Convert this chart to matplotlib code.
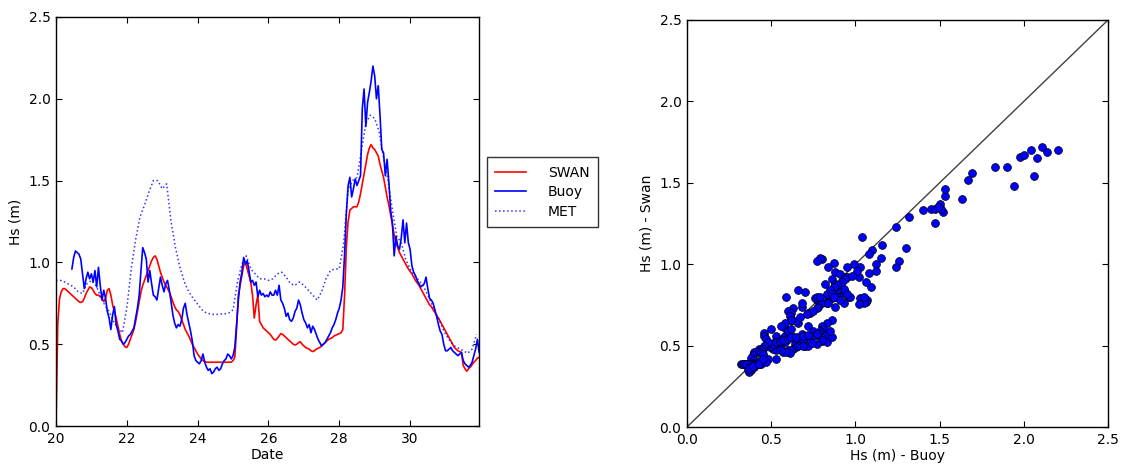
import numpy as np
import matplotlib
matplotlib.use("Agg")
import matplotlib.pyplot as plt

# ---- data ----
swan_start, swan_step = 20.0, 0.05
swan = [
    0.00, 0.62, 0.78, 0.82, 0.84, 0.84, 0.83, 0.82, 0.81, 0.80,
    0.79, 0.78, 0.77, 0.76, 0.755, 0.76, 0.78, 0.81, 0.83, 0.85,
    0.845, 0.83, 0.81, 0.80, 0.80, 0.79, 0.78, 0.76, 0.78, 0.83,
    0.84, 0.80, 0.74, 0.70, 0.66, 0.61, 0.56, 0.52, 0.50, 0.485,
    0.48, 0.50, 0.53, 0.56, 0.59, 0.64, 0.70, 0.76, 0.82, 0.86,
    0.89, 0.92, 0.95, 0.98, 1.01, 1.03, 1.04, 1.02, 0.98, 0.94,
    0.91, 0.88, 0.86, 0.84, 0.82, 0.79, 0.76, 0.73, 0.71, 0.70,
    0.68, 0.65, 0.62, 0.59, 0.57, 0.55, 0.525, 0.50, 0.48, 0.46,
    0.44, 0.425, 0.41, 0.40, 0.395, 0.39, 0.39, 0.39, 0.39, 0.39,
    0.39, 0.39, 0.39, 0.39, 0.39, 0.39, 0.39, 0.39, 0.39, 0.39,
    0.40, 0.42, 0.60, 0.80, 0.86, 0.92, 0.98, 1.00, 0.96, 0.92,
    0.88, 0.80, 0.66, 0.74, 0.80, 0.64, 0.62, 0.60, 0.59, 0.58,
    0.57, 0.56, 0.545, 0.53, 0.525, 0.535, 0.55, 0.565, 0.56, 0.55,
    0.54, 0.53, 0.52, 0.51, 0.50, 0.495, 0.50, 0.51, 0.515, 0.50,
    0.49, 0.48, 0.475, 0.47, 0.46, 0.455, 0.46, 0.47, 0.475, 0.48,
    0.49, 0.50, 0.51, 0.52, 0.53, 0.535, 0.54, 0.55, 0.555, 0.56,
    0.565, 0.57, 0.59, 0.80, 1.10, 1.25, 1.32, 1.33, 1.34, 1.34,
    1.34, 1.37, 1.42, 1.48, 1.54, 1.60, 1.66, 1.70, 1.72, 1.70,
    1.69, 1.67, 1.65, 1.60, 1.56, 1.52, 1.46, 1.40, 1.35, 1.29,
    1.23, 1.17, 1.12, 1.09, 1.06, 1.04, 1.02, 1.00, 0.98, 0.96,
    0.945, 0.93, 0.91, 0.89, 0.875, 0.86, 0.84, 0.82, 0.80, 0.78,
    0.76, 0.74, 0.73, 0.71, 0.695, 0.675, 0.66, 0.64, 0.62, 0.60,
    0.58, 0.56, 0.54, 0.52, 0.50, 0.48, 0.47, 0.46, 0.455, 0.45,
    0.37, 0.35, 0.335, 0.35, 0.36, 0.375, 0.39, 0.40, 0.415, 0.42,
]

buoy_start, buoy_step = 20.45, 0.05
buoy = [
    0.96, 1.03, 1.07, 1.06, 1.05, 1.02, 0.93, 0.84, 0.90, 0.94,
    0.90, 0.93, 0.88, 0.95, 0.85, 0.97, 0.86, 0.77, 0.83, 0.78,
    0.70, 0.66, 0.59, 0.68, 0.73, 0.62, 0.58, 0.53, 0.52, 0.50,
    0.51, 0.53, 0.55, 0.56, 0.58, 0.60, 0.66, 0.72, 0.80, 0.95,
    1.09, 1.06, 1.02, 0.88, 0.95, 0.87, 0.80, 0.79, 0.77, 0.84,
    0.91, 0.86, 0.82, 0.87, 0.89, 0.83, 0.76, 0.68, 0.63, 0.60,
    0.62, 0.61, 0.65, 0.72, 0.75, 0.68, 0.63, 0.58, 0.52, 0.43,
    0.40, 0.39, 0.38, 0.40, 0.44, 0.39, 0.36, 0.34, 0.35, 0.32,
    0.33, 0.35, 0.36, 0.34, 0.35, 0.38, 0.40, 0.41, 0.44, 0.43,
    0.41, 0.43, 0.48, 0.62, 0.77, 0.88, 0.94, 1.03, 0.99, 1.01,
    0.95, 0.88, 0.89, 0.86, 0.88, 0.79, 0.83, 0.80, 0.81, 0.79,
    0.80, 0.79, 0.82, 0.80, 0.80, 0.83, 0.80, 0.86, 0.77, 0.75,
    0.72, 0.67, 0.69, 0.65, 0.64, 0.66, 0.70, 0.72, 0.77, 0.74,
    0.69, 0.65, 0.63, 0.60, 0.62, 0.57, 0.61, 0.59, 0.56, 0.53,
    0.51, 0.49, 0.50, 0.51, 0.53, 0.55, 0.57, 0.60, 0.62, 0.65,
    0.69, 0.72, 0.77, 0.85, 1.05, 1.30, 1.47, 1.52, 1.40, 1.45,
    1.51, 1.47, 1.50, 1.53, 1.94, 2.06, 1.83, 1.98, 2.04, 2.11,
    2.20, 2.14, 2.00, 2.08, 1.90, 1.69, 1.67, 1.53, 1.63, 1.49,
    1.32, 1.24, 1.04, 1.16, 1.10, 1.08, 1.15, 1.26, 1.12, 1.24,
    1.12, 1.08, 0.98, 0.94, 0.92, 0.89, 0.87, 0.85, 0.86, 0.87,
    0.91, 0.84, 0.78, 0.77, 0.75, 0.71, 0.67, 0.62, 0.58, 0.56,
    0.50, 0.46, 0.46, 0.47, 0.48, 0.46, 0.45, 0.44, 0.43, 0.44,
    0.45, 0.40, 0.38, 0.37, 0.36, 0.37, 0.39, 0.43, 0.47, 0.53,
    0.45,
]

met_start, met_step = 20.0, 0.125
met = [
    0.89, 0.89, 0.88, 0.865, 0.85, 0.82, 0.81, 0.87,
    0.89, 0.86, 0.80, 0.74, 0.70, 0.64, 0.60, 0.57,
    0.72, 0.96, 1.14, 1.28, 1.35, 1.43, 1.50, 1.50,
    1.45, 1.48, 1.25, 1.09, 0.97, 0.88, 0.82, 0.78,
    0.745, 0.71, 0.69, 0.685, 0.68, 0.685, 0.685, 0.69,
    0.71, 0.88, 0.99, 1.04, 0.96, 0.93, 0.90, 0.90,
    0.89, 0.90, 0.93, 0.94, 0.91, 0.87, 0.86, 0.88,
    0.86, 0.83, 0.80, 0.77, 0.82, 0.90, 0.95, 0.96,
    0.96, 1.12, 1.45, 1.50, 1.52, 1.68, 1.85, 1.90,
    1.88, 1.80, 1.64, 1.50, 1.32, 1.16, 1.12, 1.02,
    0.96, 0.92, 0.89, 0.855, 0.80, 0.74, 0.68, 0.62,
    0.56, 0.52, 0.49, 0.475, 0.46, 0.445, 0.47, 0.56,
]

xticks_left = [20, 22, 24, 26, 28, 30]
yticks = [0.0, 0.5, 1.0, 1.5, 2.0, 2.5]

# ---- derived time axes ----
t_swan = swan_start + swan_step * np.arange(len(swan))
t_buoy = buoy_start + buoy_step * np.arange(len(buoy))
t_met = met_start + met_step * np.arange(len(met))
swan_arr = np.array(swan)
buoy_arr = np.array(buoy)
offset = int(round((buoy_start - swan_start) / swan_step))
swan_at_buoy = swan_arr[offset:offset + len(buoy_arr)]

plt.rcParams['font.family'] = ['DejaVu Sans']
plt.rcParams['font.size'] = 10

fig = plt.figure(figsize=(11.24, 4.68), dpi=100)
fig.patch.set_facecolor('white')

ax1 = fig.add_axes([0.0498, 0.0897, 0.3765, 0.874])
ax1.plot(t_swan, swan_arr, color='red', lw=1.2, label='SWAN')
ax1.plot(t_buoy, buoy_arr, color='blue', lw=1.2, label='Buoy')
ax1.plot(t_met, met, color='blue', lw=1.1, ls=':', alpha=0.8, label='MET')
ax1.set_xlim(20, 31.95)
ax1.set_ylim(0, 2.5)
ax1.set_xticks(xticks_left)
ax1.set_yticks(yticks)
ax1.set_xlabel('Date', labelpad=2)
ax1.set_ylabel('Hs (m)')
leg = ax1.legend(loc='upper left', bbox_to_anchor=(1.018, 0.657),
                 frameon=True, fancybox=False, borderaxespad=0.0,
                 handlelength=2.2, handletextpad=1.6, fontsize=10,
                 borderpad=0.6, labelspacing=0.4)
leg.get_frame().set_edgecolor('black')
leg.get_frame().set_linewidth(1.0)

ax2 = fig.add_axes([0.6112, 0.0876, 0.3746, 0.8697])
ax2.plot([0, 2.5], [0, 2.5], color='black', lw=1.0, alpha=0.75)
ax2.scatter(buoy_arr, swan_at_buoy, s=32, c='blue', edgecolors='black',
            linewidths=0.5, zorder=3)
ax2.set_xlim(0, 2.5)
ax2.set_ylim(0, 2.5)
ax2.set_xticks(yticks)
ax2.set_yticks(yticks)
ax2.set_xlabel('Hs (m) - Buoy', labelpad=2)
ax2.set_ylabel('Hs (m) - Swan')

for ax in (ax1, ax2):
    ax.tick_params(direction='in', top=True, right=True, length=4, width=0.8,
                   labelsize=10, pad=4)
    for sp in ax.spines.values():
        sp.set_linewidth(1.0)
        sp.set_color('black')
ax1.yaxis.set_major_formatter(matplotlib.ticker.FormatStrFormatter('%.1f'))
ax2.yaxis.set_major_formatter(matplotlib.ticker.FormatStrFormatter('%.1f'))
ax2.xaxis.set_major_formatter(matplotlib.ticker.FormatStrFormatter('%.1f'))
ax1.xaxis.set_major_formatter(matplotlib.ticker.FormatStrFormatter('%d'))

fig.savefig('out.png', dpi=100, facecolor='white')
